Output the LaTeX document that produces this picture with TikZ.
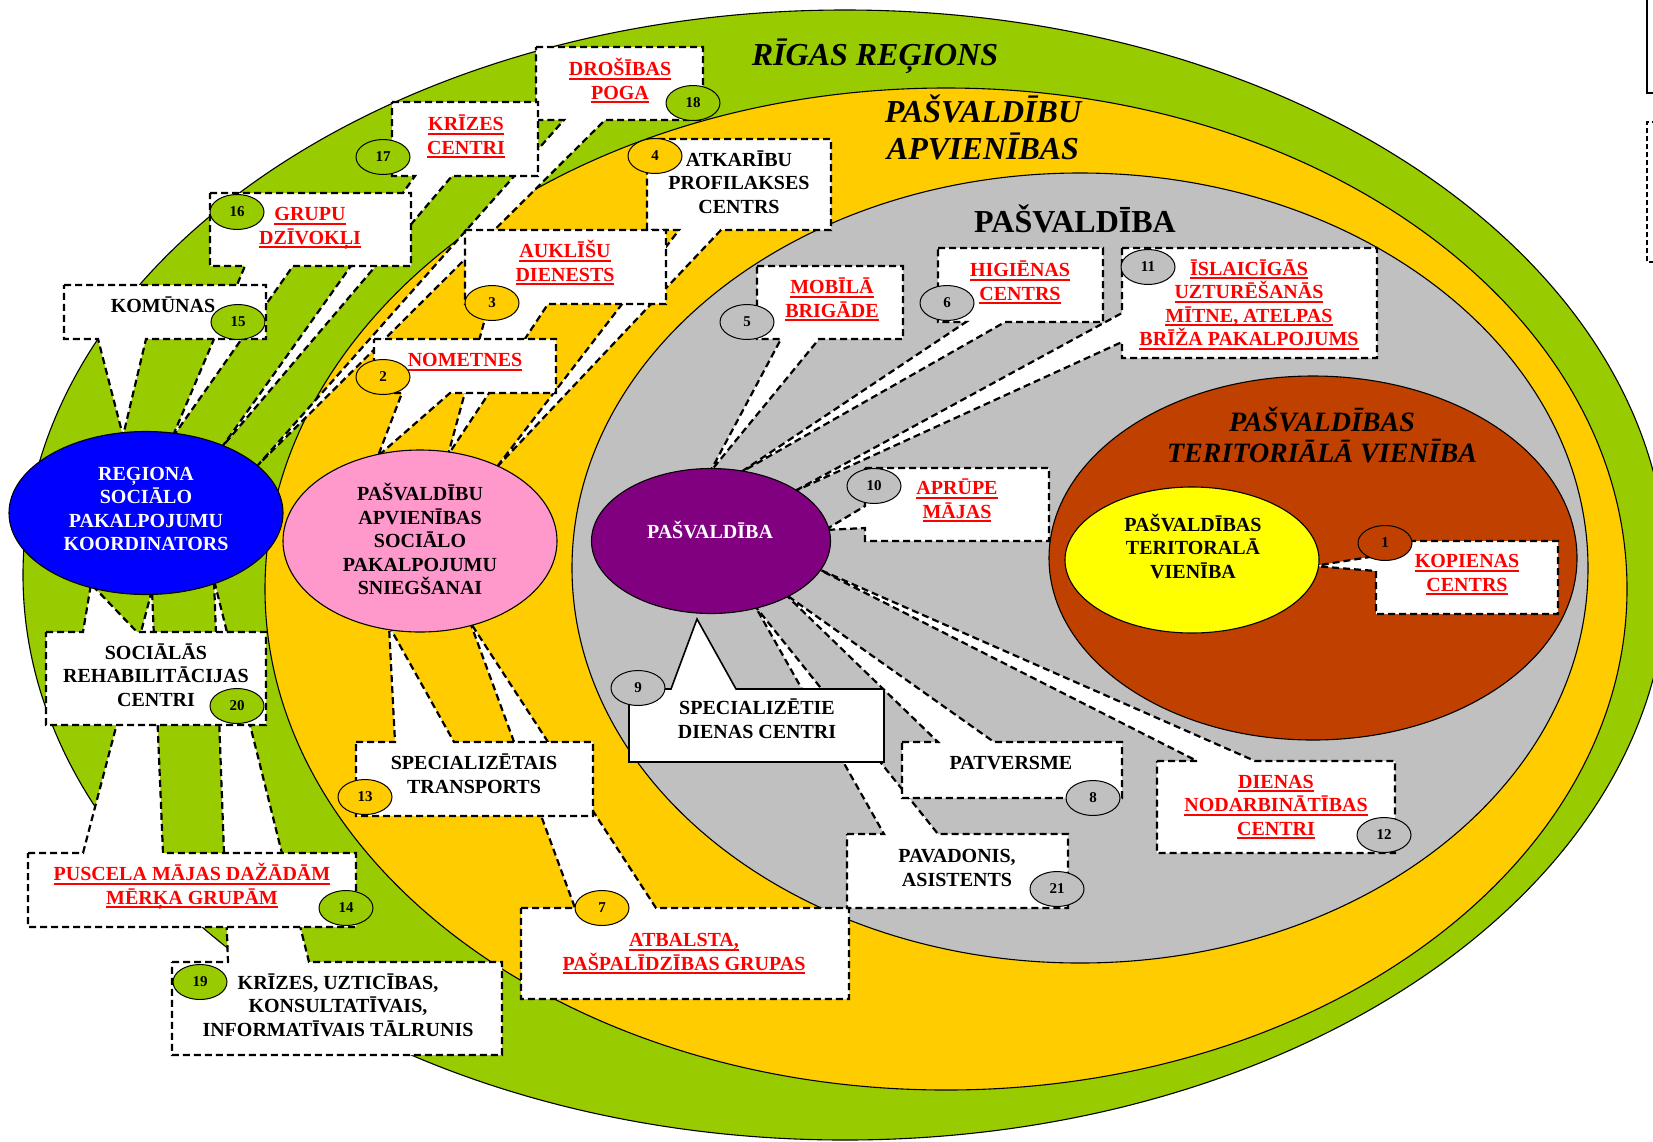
\documentclass[tikz,border=0pt]{standalone}
\usepackage{fontspec}
\setmainfont{Liberation Serif}
\usetikzlibrary{shapes.geometric}
\definecolor{cgreen}{RGB}{153,204,0}
\definecolor{corange}{RGB}{255,204,0}
\definecolor{cgray}{RGB}{192,192,192}
\definecolor{cbrown}{RGB}{192,64,0}
\definecolor{cyellow}{RGB}{255,255,0}
\definecolor{cblue}{RGB}{0,0,255}
\definecolor{cpink}{RGB}{255,153,204}
\definecolor{cpurple}{RGB}{128,0,128}
\definecolor{cred}{RGB}{255,0,0}
\newsavebox\ulbox
\newcommand\ulx[1]{\sbox\ulbox{#1}\rlap{\rule[-0.2em]{\wd\ulbox}{0.1em}}\usebox\ulbox}
\newcommand\Sx{\rule[-0.22em]{0pt}{1.1em}}
\tikzset{
 co/.style={fill=white, draw=black, line width=2.2pt, dash pattern=on 7pt off 4pt, line join=miter},
 cosolid/.style={fill=white, draw=black, line width=1.6pt, line join=miter},
 big/.style={ellipse, draw=black, line width=1.1pt, inner sep=0pt},
 num/.style={ellipse, draw=black, line width=1pt, inner sep=0pt, minimum width=54pt, minimum height=35pt, font=\fontsize{15}{15}\selectfont\bfseries},
 txt/.style={align=center, inner sep=0pt, font=\fontsize{20}{23.5}\selectfont\bfseries},
 rtxt/.style={txt, text=cred},
 ttl/.style={align=center, inner sep=0pt, font=\fontsize{32}{37}\selectfont\bfseries\itshape},
}
\begin{document}
\begin{tikzpicture}[x=1pt,y=-1pt]
\useasboundingbox (0,0) rectangle (1653,1141);
\fill[white] (0,0) rectangle (1653,1141);
% big regions
\node[big, fill=cgreen, minimum width=1644pt, minimum height=1130pt] (rig) at (845,575) {};
\node[big, fill=corange, minimum width=1362pt, minimum height=1002pt] (apv) at (946,589) {};
\node[big, fill=cgray, minimum width=1016pt, minimum height=790pt] (pasv) at (1080,568) {};
\node[big, fill=cbrown, minimum width=528pt, minimum height=364pt] (terv) at (1313,558) {};
% titles
\node[ttl] (tRig) at (875,56) {\Sx RĪGAS REĢIONS};
\node[ttl] (tApv) at (983,130) {\Sx PAŠVALDĪBU\\\Sx APVIENĪBAS};
\node[ttl, font=\fontsize{32}{37}\selectfont\bfseries] (tPasv) at (1075,222) {\Sx PAŠVALDĪBA};
\node[ttl, font=\fontsize{28}{31}\selectfont\bfseries\itshape] (tTerv) at (1322,438) {\Sx PAŠVALDĪBAS\\\Sx TERITORIĀLĀ VIENĪBA};
% partial legend boxes at right edge
\draw[line width=2pt] (1647,-5) -- (1647,93) -- (1665,93);
\draw[line width=1.6pt, dash pattern=on 5pt off 3pt] (1665,122) -- (1647,122) -- (1647,262) -- (1665,262);
% callouts (order matters)
\path[co] (536,47) -- (703,47) -- (703,120) -- (605,120) -- (258,465) -- (564,120) -- (536,120) -- cycle;
\path[co] (392,102) -- (538,102) -- (538,176) -- (452,176) -- (222,447) -- (415,176) -- (392,176) -- cycle;
\path[co] (210,193) -- (411,193) -- (411,266) -- (293,266) -- (172,438) -- (245,266) -- (210,266) -- cycle;
\path[co] (64,285) -- (266,285) -- (266,339) -- (146,339) -- (123,436) -- (98,339) -- (64,339) -- cycle;
\path[co] (647,139) -- (831,139) -- (831,230) -- (721,230) -- (496,468) -- (679,230) -- (647,230) -- cycle;
\path[co] (465,230) -- (666,230) -- (666,304) -- (548,304) -- (448,455) -- (489,304) -- (465,304) -- cycle;
\path[co] (374,339) -- (556,339) -- (556,393) -- (450,393) -- (378,456) -- (402,393) -- (374,393) -- cycle;
\path[co] (521,908) -- (575,908) -- (470,622) -- (656,908) -- (849,908) -- (849,999) -- (521,999) -- cycle;
\path[co] (356,742) -- (395,742) -- (389,626) -- (454,742) -- (593,742) -- (593,816) -- (356,816) -- cycle;
\path[co] (172,962) -- (228,962) -- (214,580) -- (309,962) -- (502,962) -- (502,1055) -- (172,1055) -- cycle;
\path[co] (28,853) -- (83,853) -- (152,590) -- (163,853) -- (356,853) -- (356,927) -- (28,927) -- cycle;
\path[co] (46,632) -- (83,632) -- (91,584) -- (137,632) -- (266,632) -- (266,725) -- (46,725) -- cycle;
\path[co] (847,834) -- (884,834) -- (755,606) -- (938,834) -- (1068,834) -- (1068,908) -- (847,908) -- cycle;
\path[cosolid] (629,689) -- (671,689) -- (697,619) -- (736,689) -- (884,689) -- (884,762) -- (629,762) -- cycle;
\path[co] (902,742) -- (938,742) -- (785,594) -- (994,742) -- (1122,742) -- (1122,798) -- (902,798) -- cycle;
\path[co] (1157,761) -- (1197,761) -- (816,568) -- (1255,761) -- (1395,761) -- (1395,853) -- (1157,853) -- cycle;
\path[co] (1122,248) -- (1377,248) -- (1377,358) -- (1122,358) -- (1122,342) -- (793,492) -- (1122,313) -- cycle;
\path[co] (938,248) -- (1103,248) -- (1103,322) -- (1005,322) -- (738,474) -- (966,322) -- (938,322) -- cycle;
\path[co] (757,266) -- (903,266) -- (903,339) -- (819,339) -- (710,472) -- (781,339) -- (757,339) -- cycle;
\path[co] (865,468) -- (1049,468) -- (1049,541) -- (865,541) -- (865,528) -- (825,530) -- (865,506) -- cycle;
\path[co] (1376,541) -- (1558,541) -- (1558,614) -- (1376,614) -- (1376,571) -- (1314,566) -- (1376,556) -- cycle;
% inner ellipses
\node[big, fill=cblue, minimum width=274pt, minimum height=163pt] (koord) at (146,513) {};
\node[big, fill=cpink, minimum width=274pt, minimum height=182pt] (apvs) at (420,541) {};
\node[big, fill=cpurple, minimum width=239pt, minimum height=145pt] (pas) at (711,541) {};
\node[big, fill=cyellow, minimum width=254pt, minimum height=146pt] (tv) at (1192,560) {};
\node[txt, text=white] (koordT) at (146,509) {\Sx REĢIONA\\\Sx SOCIĀLO\\\Sx PAKALPOJUMU\\\Sx KOORDINATORS};
\node[txt] (apvsT) at (420,541) {\Sx PAŠVALDĪBU\\\Sx APVIENĪBAS\\\Sx SOCIĀLO\\\Sx PAKALPOJUMU\\\Sx SNIEGŠANAI};
\node[txt, text=white] (pasT) at (710,532) {\Sx PAŠVALDĪBA};
\node[txt] (tvT) at (1193,548) {\Sx PAŠVALDĪBAS\\\Sx TERITORALĀ\\\Sx VIENĪBA};
% callout texts
\node[rtxt] (t18) at (620,81) {\Sx\ulx{DROŠĪBAS}\\\Sx\ulx{POGA}};
\node[rtxt] (t17) at (466,136) {\Sx\ulx{KRĪZES}\\\Sx\ulx{CENTRI}};
\node[rtxt] (t16) at (310,226) {\Sx\ulx{GRUPU}\\\Sx\ulx{DZĪVOKĻI}};
\node[txt] (t15) at (163,306) {\Sx KOMŪNAS};
\node[txt] (t4) at (739,183) {\Sx ATKARĪBU\\\Sx PROFILAKSES\\\Sx CENTRS};
\node[rtxt] (t3) at (565,263) {\Sx\ulx{AUKLĪŠU}\\\Sx\ulx{DIENESTS}};
\node[rtxt] (t2) at (465,360) {\Sx\ulx{NOMETNES}};
\node[rtxt] (t7) at (684,952) {\Sx\ulx{ATBALSTA,}\\\Sx\ulx{PAŠPALĪDZĪBAS GRUPAS}};
\node[txt] (t13) at (474,775) {\Sx SPECIALIZĒTAIS\\\Sx TRANSPORTS};
\node[txt] (t19) at (338,1006) {\Sx KRĪZES, UZTICĪBAS,\\\Sx KONSULTATĪVAIS,\\\Sx INFORMATĪVAIS TĀLRUNIS};
\node[rtxt] (t14) at (192,886) {\Sx\ulx{PUSCELA MĀJAS DAŽĀDĀM}\\\Sx\ulx{MĒRĶA GRUPĀM}};
\node[txt] (t20) at (156,676) {\Sx SOCIĀLĀS\\\Sx REHABILITĀCIJAS\\\Sx CENTRI};
\node[txt] (t21) at (957,868) {\Sx PAVADONIS,\\\Sx ASISTENTS};
\node[txt] (t9) at (757,720) {\Sx SPECIALIZĒTIE\\\Sx DIENAS CENTRI};
\node[txt] (t8) at (1011,763) {\Sx PATVERSME};
\node[rtxt] (t12) at (1276,805) {\Sx\ulx{DIENAS}\\\Sx\ulx{NODARBINĀTĪBAS}\\\Sx\ulx{CENTRI}};
\node[rtxt] (t11) at (1249,304) {\Sx\ulx{ĪSLAICĪGĀS}\\\Sx\ulx{UZTURĒŠANĀS}\\\Sx\ulx{MĪTNE, ATELPAS}\\\Sx\ulx{BRĪŽA PAKALPOJUMS}};
\node[rtxt] (t6) at (1020,282) {\Sx\ulx{HIGIĒNAS}\\\Sx\ulx{CENTRS}};
\node[rtxt] (t5) at (832,299) {\Sx\ulx{MOBĪLĀ}\\\Sx\ulx{BRIGĀDE}};
\node[rtxt] (t10) at (957,500) {\Sx\ulx{APRŪPE}\\\Sx\ulx{MĀJAS}};
\node[rtxt] (t1) at (1467,573) {\Sx\ulx{KOPIENAS}\\\Sx\ulx{CENTRS}};
% number badges
\node[num, fill=cgreen] (n15) at (238,322) {15};
\node[num, fill=cgreen] (n16) at (237,212) {16};
\node[num, fill=cgreen] (n17) at (383,157) {17};
\node[num, fill=cgreen] (n18) at (693,103) {18};
\node[num, fill=cgreen] (n14) at (346,908) {14};
\node[num, fill=cgreen] (n19) at (200,982) {19};
\node[num, fill=cgreen] (n20) at (237,706) {20};
\node[num, fill=corange] (n4) at (655,156) {4};
\node[num, fill=corange] (n3) at (492,303) {3};
\node[num, fill=corange] (n2) at (383,377) {2};
\node[num, fill=corange] (n13) at (365,797) {13};
\node[num, fill=corange] (n7) at (602,908) {7};
\node[num, fill=cgray] (n5) at (747,322) {5};
\node[num, fill=cgray] (n6) at (947,303) {6};
\node[num, fill=cgray] (n11) at (1148,267) {11};
\node[num, fill=cgray] (n10) at (874,486) {10};
\node[num, fill=cgray] (n9) at (638,688) {9};
\node[num, fill=cgray] (n8) at (1093,798) {8};
\node[num, fill=cgray] (n12) at (1384,835) {12};
\node[num, fill=cgray] (n21) at (1057,889) {21};
\node[num, fill=cbrown] (n1) at (1385,543) {1};
\end{tikzpicture}
\end{document}
